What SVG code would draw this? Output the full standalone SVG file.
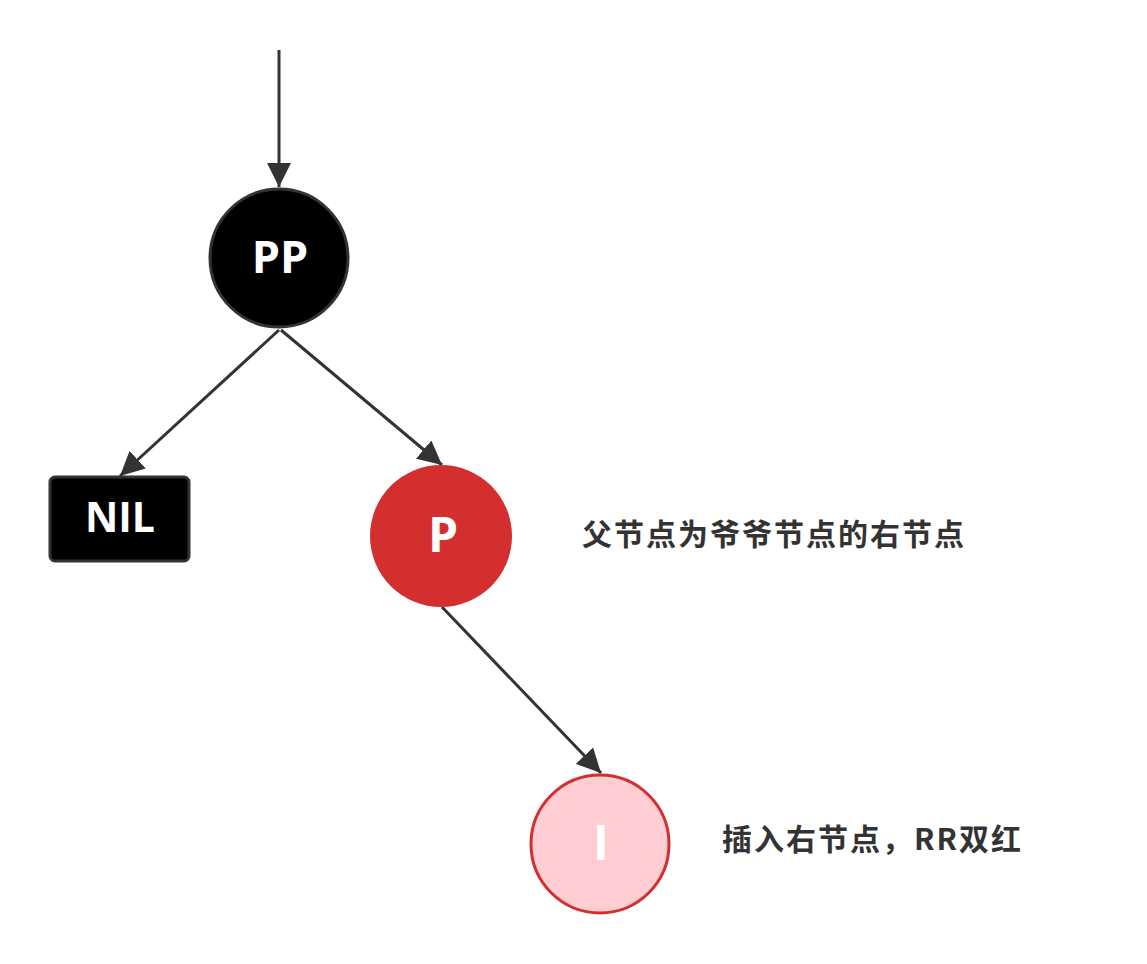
<svg xmlns="http://www.w3.org/2000/svg" width="1147" height="964" viewBox="0 0 1147 964">
<style>
.edge{stroke:#333;stroke-width:3;fill:none}
.lbl{font-family:"Open Sans","Noto Sans",sans-serif;font-weight:bold;fill:#fff;text-anchor:middle}
.note{font-family:"Noto Sans CJK SC",sans-serif;font-weight:bold;fill:#333;font-size:30px;letter-spacing:2px}
</style>
<defs>
<marker id="ah" viewBox="0 0 10 10" refX="10" refY="5" markerWidth="8" markerHeight="8" markerUnits="strokeWidth" orient="auto">
<path d="M0,0 L10,5 L0,10 Z" fill="#333"/>
</marker>
</defs>
<rect width="1147" height="964" fill="#fff"/>
<g id="connectors">
<line class="edge" x1="279" y1="50" x2="279" y2="187" marker-end="url(#ah)"/>
<line class="edge" x1="279" y1="330" x2="120" y2="476" marker-end="url(#ah)"/>
<line class="edge" x1="281" y1="330" x2="442" y2="465" marker-end="url(#ah)"/>
<line class="edge" x1="442" y1="607" x2="601" y2="773" marker-end="url(#ah)"/>
</g>
<g id="node-PP">
<circle cx="279" cy="258" r="69" fill="#000" stroke="#333" stroke-width="3"/>
<text class="lbl" x="280" y="273" font-size="45">PP</text>
</g>
<g id="node-NIL">
<rect x="50" y="477" width="139" height="84" rx="5" fill="#000" stroke="#333" stroke-width="3"/>
<text class="lbl" x="120" y="532" font-size="41">NIL</text>
</g>
<g id="node-P">
<circle cx="441" cy="536" r="71" fill="#d32f2f"/>
<text class="lbl" x="443" y="552" font-size="48">P</text>
</g>
<g id="node-I">
<circle cx="600" cy="844" r="69" fill="#ffcdd2" stroke="#d32f2f" stroke-width="3"/>
<text class="lbl" x="601" y="860" font-size="48">I</text>
</g>
<g id="note-1">
<text class="note" x="582" y="545">父节点为爷爷节点的右节点</text>
</g>
<g id="note-2">
<text class="note" x="722" y="850">插入右节点，RR双红</text>
</g>
</svg>
